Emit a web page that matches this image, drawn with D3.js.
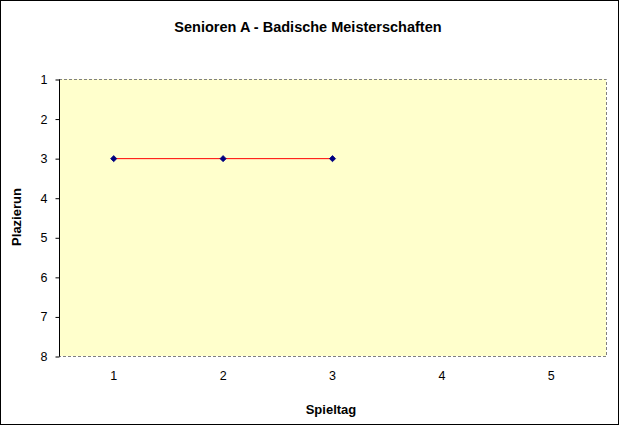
<!DOCTYPE html>
<html><head><meta charset="utf-8">
<script src="https://cdn.jsdelivr.net/npm/d3@7"></script>
<style>body{margin:0;background:#fff}svg{display:block}text{font-family:Arial,"Liberation Sans",sans-serif}</style>
</head><body>
<svg id="c" width="620" height="426"></svg>
<script>
const categories = ["1","2","3","4","5"];
const placements = [3,3,3];
const yTicks = [1,2,3,4,5,6,7,8];
const titleText = "Senioren A - Badische Meisterschaften";
const xTitle = "Spieltag";
const yTitle = "Plazierun";

const svg = d3.select("#c");
const L=59, R=606, T=79, B=356;
svg.append("rect").attr("x",0.5).attr("y",0.5).attr("width",618).attr("height",424)
  .attr("fill","#fff").attr("stroke","#000").attr("stroke-width",1);

const x = d3.scaleBand().domain(categories).range([L,R]);
const y = d3.scaleLinear().domain([1,8]).range([T,B]);

svg.append("rect").attr("x",L).attr("y",T).attr("width",R-L).attr("height",B-T)
  .attr("fill","#ffffcc");
svg.append("path").attr("d",`M${L},${T+0.5}H${R+0.5}V${B+0.5}H${L}`)
  .attr("fill","none").attr("stroke","#808080").attr("stroke-dasharray","3,2");

const ya = svg.append("g").attr("transform",`translate(${L+0.5},0.5)`)
  .call(d3.axisLeft(y).tickValues(yTicks).tickFormat(d3.format("d")).tickSize(4).tickPadding(8));
ya.select(".domain").attr("stroke","#000").attr("d",`M0,${T}V${B}`);
ya.selectAll("line").attr("stroke","#000");
ya.selectAll("text").attr("font-size",12.5).attr("fill","#000").attr("font-family","Arial,'Liberation Sans',sans-serif");

const xa = svg.append("g").attr("transform",`translate(0,${B})`)
  .call(d3.axisBottom(x).tickSize(0).tickPadding(15));
xa.select(".domain").remove();
xa.selectAll("text").attr("font-size",12.5).attr("fill","#000").attr("font-family","Arial,'Liberation Sans',sans-serif");

const pts = placements.map((v,i)=>({c:categories[i],v}));
const cx = d=>x(d.c)+x.bandwidth()/2;
svg.append("path").datum(pts)
  .attr("d",d3.line().x(cx).y(d=>y(d.v)+0.5))
  .attr("fill","none").attr("stroke","#ff0000").attr("stroke-width",1);
svg.selectAll(".m").data(pts).enter().append("path")
  .attr("transform",d=>`translate(${cx(d)},${y(d.v)+0.5})`)
  .attr("d",d3.symbol().type(d3.symbolDiamond2).size(24))
  .attr("fill","#000080").attr("stroke","#000080").attr("stroke-width",0.8);

svg.append("text").attr("x",308).attr("y",32).attr("text-anchor","middle")
  .attr("font-size",14.5).attr("font-weight","bold").text(titleText);
svg.append("text").attr("x",331).attr("y",414).attr("text-anchor","middle")
  .attr("font-size",13).attr("font-weight","bold").text(xTitle);
svg.append("text").attr("transform","translate(21,217) rotate(-90)").attr("text-anchor","middle")
  .attr("font-size",13).attr("font-weight","bold").text(yTitle);
</script>
</body></html>
